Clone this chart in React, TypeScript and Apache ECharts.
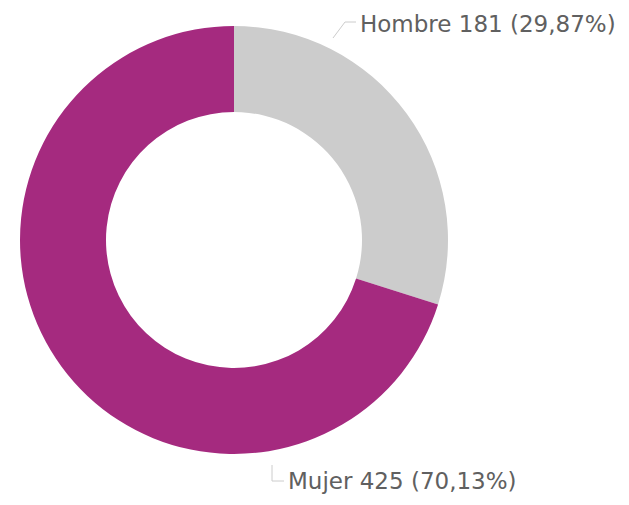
import React, { useEffect, useRef } from "react";
import * as echarts from "echarts";

const categories = ["Hombre", "Mujer"];
const values = [181, 425];
const percents = ["29,87", "70,13"];
const colors = ["#cccccc", "#a52a7f"];

export default function App() {
  const ref = useRef<HTMLDivElement>(null);
  useEffect(() => {
    if (!ref.current) return;
    const chart = echarts.init(ref.current, undefined, { renderer: "svg" });
    const labelPos = [
      { x: 360, y: 24 },
      { x: 288, y: 481 },
    ];
    chart.setOption({
      animation: false,
      backgroundColor: "#ffffff",
      series: [
        {
          type: "pie",
          center: [234, 240],
          radius: [128, 214],
          startAngle: 90,
          clockwise: true,
          avoidLabelOverlap: false,
          label: {
            show: true,
            position: "outside",
            color: "#606060",
            fontFamily: "DejaVu Sans",
            fontSize: 23,
            overflow: "none",
            width: 400,
            formatter: (p: any) => `${p.name} ${p.value} (${percents[p.dataIndex]}%)`,
          },
          labelLine: { show: false },
          labelLayout: (p: any) => ({
            x: labelPos[p.dataIndex].x,
            y: labelPos[p.dataIndex].y,
            align: "left",
            verticalAlign: "middle",
            hideOverlap: false,
            moveOverlap: null,
          }),
          emphasis: { disabled: true },
          data: categories.map((name, i) => ({
            name,
            value: values[i],
            itemStyle: { color: colors[i] },
          })),
        },
      ],
      graphic: [
        {
          type: "polyline",
          shape: { points: [[333, 38], [345, 22], [356, 22]] },
          style: { stroke: "#cccccc", lineWidth: 1, fill: null },
        },
        {
          type: "polyline",
          shape: { points: [[272, 465], [272, 481], [284, 481]] },
          style: { stroke: "#cccccc", lineWidth: 1, fill: null },
        },
      ],
    });
    return () => chart.dispose();
  }, []);
  return (
    <div
      ref={ref}
      style={{ position: "fixed", left: 0, top: 0, width: 629, height: 505 }}
    />
  );
}
